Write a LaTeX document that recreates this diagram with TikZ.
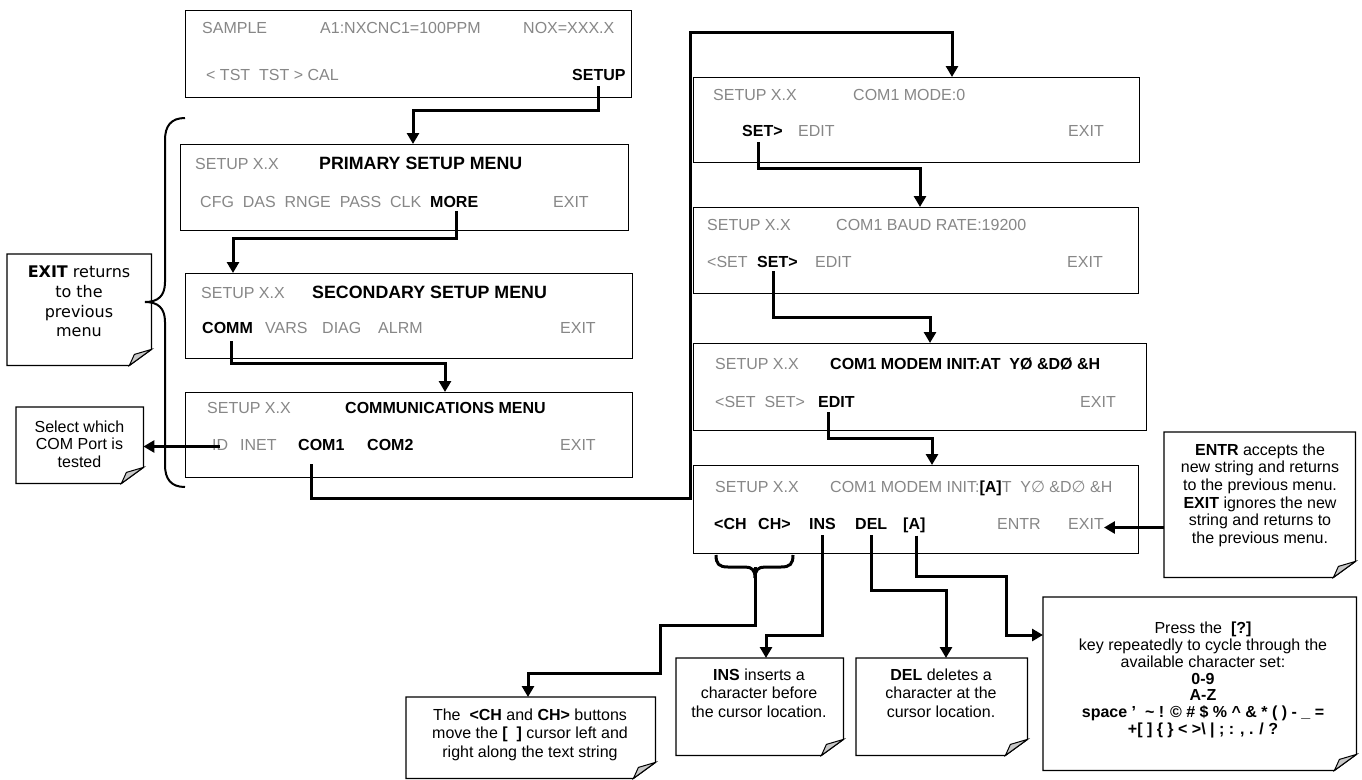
\documentclass[tikz,border=0pt]{standalone}
\usepackage{fontspec}
\setmainfont{Liberation Sans}
\newfontfamily\verdanaFace{DejaVu Sans}
\newfontfamily\symFace{DejaVu Sans}
\usetikzlibrary{arrows.meta,positioning}

\definecolor{keyGrey}{RGB}{135,135,135}
\definecolor{flapGrey}{RGB}{200,200,200}

% outline of a note with a turned-up corner
\newcommand{\foldNote}[1]{%
  \draw[line width=1.3pt,line join=miter] (#1.north west) -- (#1.north east) -- ([yshift=16pt]#1.south east)
     -- ([xshift=-22pt]#1.south east) -- (#1.south west) -- cycle;
  \draw[line width=1pt,fill=flapGrey] ([xshift=-22pt]#1.south east) -- ([yshift=16pt]#1.south east)
     -- ([xshift=-17pt,yshift=11pt]#1.south east) -- cycle;}

\begin{document}
\begin{tikzpicture}[x=1pt,y=-1pt]
\tikzset{
    cfgBox/.style={draw,line width=1.4pt,anchor=north west,inner sep=0pt},
    cfgGrey/.style={anchor=base west,inner sep=0pt,text=keyGrey,font=\fontsize{16}{18}\selectfont},
    cfgKey/.style={anchor=base west,inner sep=0pt,font=\fontsize{16}{18}\selectfont\bfseries},
    cfgTitle/.style={cfgKey,font=\fontsize{17.8}{20}\selectfont\bfseries},
    cfgLink/.style={line width=3pt,-{Triangle[length=11pt,width=12pt]}},
    cfgNote/.style={anchor=north west,inner sep=0pt},
    cfgNoteText/.style={align=center,inner sep=0pt,anchor=north,font=\fontsize{16}{18}\selectfont}
}
\useasboundingbox[fill=white] (0,0) rectangle (1362,779);

% --- left column: menu screens
\node[cfgBox,minimum width=446pt,minimum height=87pt] (bSample) at (185,10) {};
\node[cfgGrey] (tSample) at (202,33) {SAMPLE};
\node[cfgGrey] (tConc) at (320,33) {A1:NXCNC1=100PPM};
\node[cfgGrey] (tNox) at (523,33) {NOX=XXX.X};
\node[cfgGrey] (tTest) at (206,80) {< TST\ \ TST > CAL};
\node[cfgKey] (kSetup) at (572,80) {SETUP};

\node[cfgBox,minimum width=448pt,minimum height=86pt] (bPrimary) at (180,144) {};
\node[cfgGrey] (tPrimVer) at (195,169) {SETUP X.X};
\node[cfgTitle] (tPrimTitle) at (319,169) {PRIMARY SETUP MENU};
\node[cfgGrey] (tPrimKeys) at (200,207) {CFG\ \ DAS\ \ RNGE\ \ PASS\ \ CLK};
\node[cfgKey] (kMore) at (430,207) {MORE};
\node[cfgGrey] (tPrimExit) at (553,207) {EXIT};

\node[cfgBox,minimum width=447pt,minimum height=85pt] (bSecond) at (185,273) {};
\node[cfgGrey] (tSecVer) at (201,298) {SETUP X.X};
\node[cfgTitle] (tSecTitle) at (312,298) {SECONDARY SETUP MENU};
\node[cfgKey] (kComm) at (202,333) {COMM};
\node[cfgGrey] (tVars) at (265,333) {VARS};
\node[cfgGrey] (tDiag) at (322,333) {DIAG};
\node[cfgGrey] (tAlrm) at (378,333) {ALRM};
\node[cfgGrey] (tSecExit) at (560,333) {EXIT};

\node[cfgBox,minimum width=447pt,minimum height=85pt] (bComm) at (185,392) {};
\node[cfgGrey] (tComVer) at (207,413) {SETUP X.X};
\node[cfgKey] (tComTitle) at (345,413) {COMMUNICATIONS MENU};
\node[cfgGrey] (kId) at (212,450) {ID};
\node[cfgGrey] (tInet) at (240,450) {INET};
\node[cfgKey] (kCom1) at (298,450) {COM1};
\node[cfgKey] (tCom2) at (367,450) {COM2};
\node[cfgGrey] (tComExit) at (560,450) {EXIT};

% --- right column: COM1 screens
\node[cfgBox,minimum width=446pt,minimum height=85pt] (bMode) at (693,77) {};
\node[cfgGrey] (tModeVer) at (713,100) {SETUP X.X};
\node[cfgGrey] (tModeVal) at (853,100) {COM1 MODE:0};
\node[cfgKey] (kModeSet) at (742,136) {SET>};
\node[cfgGrey] (tModeEdit) at (798,136) {EDIT};
\node[cfgGrey] (tModeExit) at (1068,136) {EXIT};

\node[cfgBox,minimum width=445pt,minimum height=86pt] (bBaud) at (693,207) {};
\node[cfgGrey] (tBaudVer) at (707,230) {SETUP X.X};
\node[cfgGrey] (tBaudVal) at (836,230) {COM1 BAUD RATE:19200};
\node[cfgGrey] (tBaudPrev) at (707,267) {<SET};
\node[cfgKey] (kBaudSet) at (757,267) {SET>};
\node[cfgGrey] (tBaudEdit) at (815,267) {EDIT};
\node[cfgGrey] (tBaudExit) at (1067,267) {EXIT};

\node[cfgBox,minimum width=453pt,minimum height=87pt] (bModem) at (693,343) {};
\node[cfgGrey] (tModemVer) at (715,369) {SETUP X.X};
\node[cfgKey] (tModemVal) at (830,369) {COM1 MODEM INIT:AT\ \ YØ \&DØ \&H};
\node[cfgGrey] (tModemSet) at (715,407) {<SET\ \ SET>};
\node[cfgKey] (kModemEdit) at (818,407) {EDIT};
\node[cfgGrey] (tModemExit) at (1080,407) {EXIT};

\node[cfgBox,minimum width=445pt,minimum height=88pt] (bEdit) at (693,465) {};
\node[cfgGrey] (tEditVer) at (715,492) {SETUP X.X};
\node[cfgGrey] (tEditVal) at (830,492) {COM1 MODEM INIT:\textcolor{black}{\bfseries[A]}T\ \ Y{\symFace ∅} \&D{\symFace ∅} \&H};
\node[cfgKey] (kChLeft) at (714,529) {<CH};
\node[cfgKey] (kChRight) at (758,529) {CH>};
\node[cfgKey] (kIns) at (809,529) {INS};
\node[cfgKey] (kDel) at (855,529) {DEL};
\node[cfgKey] (kCharA) at (903,529) {[A]};
\node[cfgGrey] (tEditEntr) at (997,529) {ENTR};
\node[cfgGrey] (kEditExit) at (1068,529) {EXIT};

% --- notes
\node[cfgNote,minimum width=144pt,minimum height=111pt] (nExit) at (7,254) {};
\node[cfgNote,minimum width=127pt,minimum height=76pt] (nSelect) at (16,407) {};
\node[cfgNote,minimum width=249pt,minimum height=81pt] (nCh) at (406,697) {};
\node[cfgNote,minimum width=167pt,minimum height=97pt] (nIns) at (676,658) {};
\node[cfgNote,minimum width=171pt,minimum height=97pt] (nDel) at (856,658) {};
\node[cfgNote,minimum width=313pt,minimum height=173pt] (nPress) at (1043,597) {};
\node[cfgNote,minimum width=191pt,minimum height=145pt] (nEntr) at (1164,432) {};
\foldNote{nExit}
\foldNote{nSelect}
\foldNote{nCh}
\foldNote{nIns}
\foldNote{nDel}
\foldNote{nPress}
\foldNote{nEntr}

\node[cfgNoteText,font=\verdanaFace\fontsize{16}{19.7}\selectfont] (tExitNote) at (79,266)
  {\textbf{EXIT} returns\\to the\\previous\\menu};
\node[cfgNoteText,font=\fontsize{16}{17.5}\selectfont] (tSelectNote) at (79.5,420.5)
  {Select which\\COM Port is\\tested};
\node[cfgNoteText,font=\fontsize{16}{18.5}\selectfont] (tChNote) at (530,708.5)
  {The\ \ \textbf{<CH} and \textbf{CH>} buttons\\move the \textbf{[\ \ ]} cursor left and\\right along the text string};
\node[cfgNoteText,font=\fontsize{16}{18.5}\selectfont] (tInsNote) at (759,668.5)
  {\textbf{INS} inserts a\\character before\\the cursor location.};
\node[cfgNoteText,font=\fontsize{16}{18.5}\selectfont] (tDelNote) at (941,668.5)
  {\textbf{DEL} deletes a\\character at the\\cursor location.};
\node[cfgNoteText,font=\fontsize{16}{16.9}\selectfont] (tPressNote) at (1203,621.5)
  {Press the\ \ \textbf{[?]}\\key repeatedly to cycle through the\\available character set:\\\textbf{0-9}\\\textbf{A-Z}\\
   \textbf{space ’\ \ \textasciitilde\ ! © \# \$ \% \textasciicircum\ \& * ( ) - \_ =}\\\textbf{+[ ] \{ \} < >\textbackslash\ | ; : , . / ?}};
\node[cfgNoteText,font=\fontsize{16}{17.6}\selectfont] (tEntrNote) at (1260,443.5)
  {\textbf{ENTR} accepts the\\new string and returns\\to the previous menu.\\\textbf{EXIT} ignores the new\\string and returns to\\the previous menu.};

% --- braces
\draw[line width=2pt] (185,118) .. controls (171,118) and (165,126) .. (165,140) -- (165,282)
  .. controls (165,296) and (158,302) .. (145,302) .. controls (158,302) and (165,308) .. (165,322)
  -- (165,465) .. controls (165,479) and (171,487) .. (185,487);
\coordinate (chTip) at (755,567);
\draw[line width=3pt] (716,555) .. controls (716,564) and (719,567) .. (728,567) -- (745,567)
  .. controls (752,567) and (755,570) .. (755,578) .. controls (755,570) and (758,567) .. (765,567)
  -- (781,567) .. controls (790,567) and (793,564) .. (793,555);

% --- connectors
\coordinate (jSetup) at (413,110);
\draw[cfgLink] ([yshift=-6pt]kSetup.south) |- (jSetup) -- (jSetup |- bPrimary.north);
\coordinate (jMore) at (233,238);
\draw[cfgLink] ([xshift=2pt,yshift=-4pt]kMore.south) |- (jMore) -- (jMore |- bSecond.north);
\coordinate (jComm) at (445,363);
\draw[cfgLink] ([xshift=4pt,yshift=-8pt]kComm.south) |- (jComm) -- (jComm |- bComm.north);
\draw[cfgLink] ([yshift=-2pt]kId.center) -- ([yshift=-2pt]kId.center -| nSelect.east);
\coordinate (jCom1) at (690,498);
\coordinate (jMode) at (952,32);
\draw[cfgLink] ([xshift=-10pt,yshift=-14pt]kCom1.south) |- (jCom1) |- (jMode) -- (jMode |- bMode.north);
\coordinate (jModeSet) at (920,168);
\draw[cfgLink] ([xshift=-4pt,yshift=-6pt]kModeSet.south) |- (jModeSet) -- (jModeSet |- bBaud.north);
\coordinate (jBaudSet) at (930,317);
\draw[cfgLink] ([xshift=-4pt,yshift=-4pt]kBaudSet.south) |- (jBaudSet) -- (jBaudSet |- bModem.north);
\coordinate (jModemEdit) at (932,438);
\draw[cfgLink] ([xshift=-8pt,yshift=-5pt]kModemEdit.south) |- (jModemEdit) -- (jModemEdit |- bEdit.north);
\coordinate (jChA) at (660,625);
\coordinate (jChB) at (528,673);
\draw[cfgLink] (chTip) |- (jChA) |- (jChB) -- (jChB |- nCh.north);
\coordinate (jIns) at (766,635);
\draw[cfgLink] ([yshift=-6pt]kIns.south) |- (jIns) -- (jIns |- nIns.north);
\coordinate (jDel) at (946,590);
\draw[cfgLink] ([yshift=-6pt]kDel.south) |- (jDel) -- (jDel |- nDel.north);
\coordinate (jCharA) at (1006,576);
\coordinate (jCharB) at (1006,635);
\draw[cfgLink] ([xshift=2pt,yshift=-3pt]kCharA.south) |- (jCharA) -- (jCharB) -- (jCharB -| nPress.west);
\draw[cfgLink] ([yshift=-4pt]kEditExit.east -| nEntr.west) -- ([yshift=-4pt]kEditExit.east);
\end{tikzpicture}
\end{document}
